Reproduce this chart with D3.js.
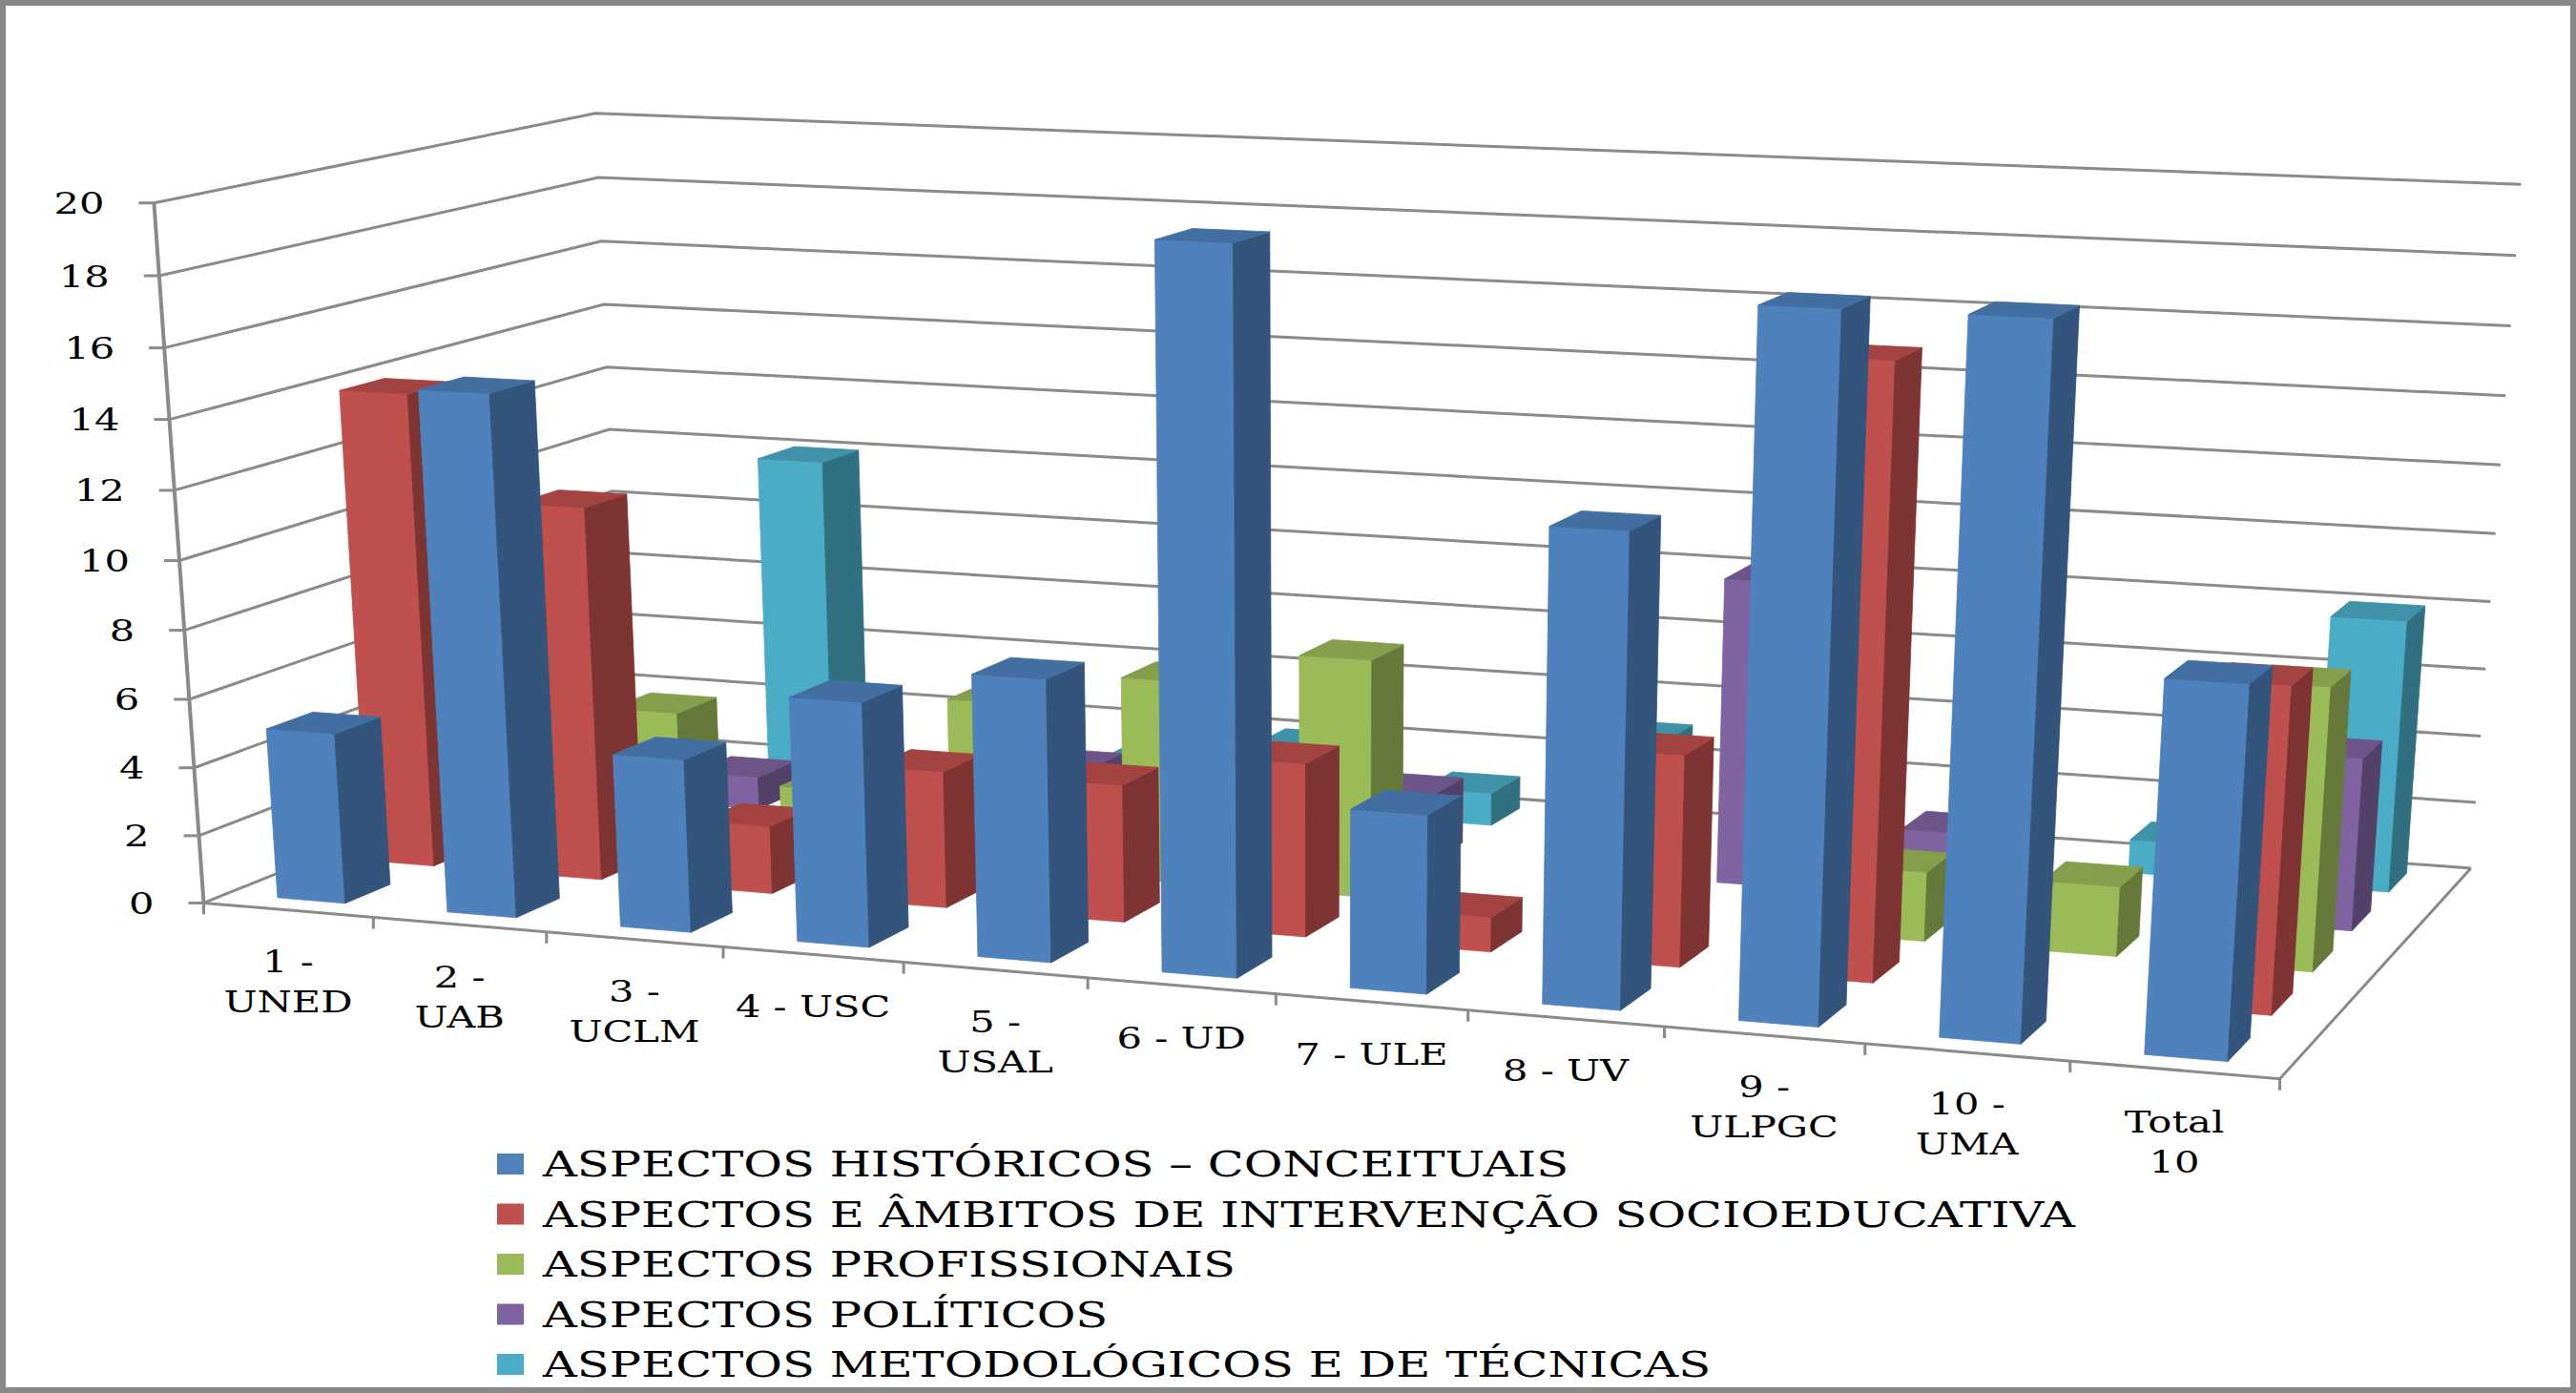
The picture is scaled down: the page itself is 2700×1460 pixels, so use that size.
<!DOCTYPE html>
<html lang="pt">
<head>
<meta charset="UTF-8">
<script src="https://cdn.jsdelivr.net/npm/d3@7.8.5/dist/d3.min.js"></script>
<title>Aspectos por universidade</title>
<style>
  body { margin: 0; background: #fff; }
  text { font-family: "DejaVu Serif", "Liberation Serif", serif; fill: #000; }
</style>
</head>
<body>
<svg id="chart" width="2700" height="1460"></svg>
<script>
// ---- data ----
var categories = ["1 - UNED", "2 - UAB", "3 - UCLM", "4 - USC", "5 - USAL", "6 - UD",
                  "7 - ULE", "8 - UV", "9 - ULPGC", "10 - UMA", "Total 10"];
// how the category labels wrap under the axis
var categoryLines = [["1 -", "UNED"], ["2 -", "UAB"], ["3 -", "UCLM"], ["4 - USC"], ["5 -", "USAL"],
                     ["6 - UD"], ["7 - ULE"], ["8 - UV"], ["9 -", "ULPGC"], ["10 -", "UMA"], ["Total", "10"]];
var seriesNames = ["ASPECTOS HISTÓRICOS – CONCEITUAIS",
                   "ASPECTOS E ÂMBITOS DE INTERVENÇÃO SOCIOEDUCATIVA",
                   "ASPECTOS PROFISSIONAIS",
                   "ASPECTOS POLÍTICOS",
                   "ASPECTOS METODOLÓGICOS E DE TÉCNICAS"];
var seriesColors = ["#4F81BD", "#C0504D", "#9BBB59", "#8064A2", "#4BACC6"];

var historicos    = [5, 15, 5, 7, 8, 20, 5, 13, 19, 19, 10];
var ambitos       = [14, 11, 2, 4, 4, 5, 1, 6, 17, 0, 9];
var profissionais = [0, 4, 2, 5, 6, 7, 0, 0, 2, 2, 8];
var politicos     = [0, 1, 0, 2, 0, 2, 0, 9, 2, 0, 5];
var metodologicos = [0, 10, 0, 1, 2, 1, 3, 0, 0, 1, 8];
var series = [historicos, ambitos, profissionais, politicos, metodologicos];

var yTicks = d3.range(0, 21, 2);

// ---- scales (world units: x = categories, h = value, z = depth) ----
var xScale = d3.scaleBand().domain(categories).range([0, categories.length])
    .paddingInner(0.6).paddingOuter(0.3);
var zScale = d3.scaleBand().domain(seriesNames).range([0, 1])
    .paddingInner(0.5).paddingOuter(0.25);
var yScale = d3.scaleLinear().domain([0, 20]).range([0, 1]);

// ---- perspective camera fitted to the frame corners of the plot box ----
// [x, h, z, screenX, screenY]
var frame = [
    [0, 0, 0, 213, 943], [0, 1, 0, 159, 215],
    [0, 1, 1, 626, 118], [0, 0.6, 1, 637, 383], [0, 0, 1, 650, 777],
    [11, 1, 1, 2642, 193], [11, 0, 1, 2590, 904], [11, 0, 0, 2389, 1134]
];
var frontTicks = [392, 572, 759, 950, 1142, 1337, 1537, 1744, 1955, 2170];
frontTicks.forEach(function(px, i) {
    frame.push([i + 1, 0, 0, px, 943 + (px - 213) * (1134 - 943) / (2389 - 213)]);
});

function fitCamera(pts) {
    var n = 11, M = d3.range(n).map(function() { return d3.range(n + 1).map(function() { return 0; }); });
    function add(row, b) {
        for (var i = 0; i < n; i++) {
            for (var j = 0; j < n; j++) M[i][j] += row[i] * row[j];
            M[i][n] += row[i] * b;
        }
    }
    pts.forEach(function(p) {
        var X = p[0], H = p[1], Z = p[2], u = p[3] / 1000, v = p[4] / 1000;
        add([X, H, Z, 1, 0, 0, 0, 0, -u * X, -u * H, -u * Z], u);
        add([0, 0, 0, 0, X, H, Z, 1, -v * X, -v * H, -v * Z], v);
    });
    for (var i = 0; i < n; i++) {
        var piv = i;
        for (var r = i + 1; r < n; r++) if (Math.abs(M[r][i]) > Math.abs(M[piv][i])) piv = r;
        var tmp = M[i]; M[i] = M[piv]; M[piv] = tmp;
        for (r = 0; r < n; r++) {
            if (r === i) continue;
            var f = M[r][i] / M[i][i];
            for (var c = i; c <= n; c++) M[r][c] -= f * M[i][c];
        }
    }
    return M.map(function(row, i) { return row[n] / row[i]; });
}
var P = fitCamera(frame);

function project(x, h, z) {
    var w = P[8] * x + P[9] * h + P[10] * z + 1;
    return [1000 * (P[0] * x + P[1] * h + P[2] * z + P[3]) / w,
            1000 * (P[4] * x + P[5] * h + P[6] * z + P[7]) / w];
}
var line = d3.line();
function poly(pts) { return line(pts.map(function(p) { return project(p[0], p[1], p[2]); })) + "Z"; }

// ---- drawing ----
var svg = d3.select("#chart");
var gridColor = "#8a8a8a";
var nCat = categories.length;

svg.append("rect").attr("x", 3).attr("y", 3).attr("width", 2694).attr("height", 1454)
    .attr("fill", "#fff").attr("stroke", "#878787").attr("stroke-width", 6);

// walls: gridlines on left wall and back wall
var grid = svg.append("g").attr("fill", "none").attr("stroke", gridColor).attr("stroke-width", 3);
yTicks.forEach(function(t) {
    var h = yScale(t);
    grid.append("path").attr("d", line([project(0, h, 0), project(0, h, 1), project(nCat, h, 1)]));
});
// floor edges
grid.append("path").attr("d", line([project(0, 0, 0), project(nCat, 0, 0), project(nCat, 0, 1)]));
// value axis
grid.append("path").attr("d", line([project(0, 0, 0), project(0, 1, 0)])).attr("stroke-width", 4);
yTicks.forEach(function(t) {
    var p = project(0, yScale(t), 0);
    grid.append("path").attr("d", line([[p[0] - 16, p[1]], p]));
});
d3.range(nCat + 1).forEach(function(i) {
    var p = project(i, 0, 0);
    grid.append("path").attr("d", line([p, [p[0], p[1] + 12]]));
});

// bars, back rows first, left to right
var bars = svg.append("g").attr("stroke-width", 0.8).attr("stroke-linejoin", "round");
var bw = xScale.bandwidth(), bd = zScale.bandwidth();
for (var s = seriesNames.length - 1; s >= 0; s--) {
    var base = d3.color(seriesColors[s]);
    var sideCol = base.darker(1.2).formatHex(), topCol = base.darker(0.45).formatHex();
    series[s].forEach(function(v, i) {
        if (!v) return;
        var x0 = xScale(categories[i]), x1 = x0 + bw;
        var z0 = zScale(seriesNames[s]), z1 = z0 + bd;
        var h = yScale(v);
        var g = bars.append("g");
        g.append("path").attr("d", poly([[x0, 0, z0], [x1, 0, z0], [x1, h, z0], [x0, h, z0]]))
            .attr("fill", base.formatHex()).attr("stroke", base.formatHex());
        g.append("path").attr("d", poly([[x1, 0, z0], [x1, 0, z1], [x1, h, z1], [x1, h, z0]]))
            .attr("fill", sideCol).attr("stroke", sideCol);
        g.append("path").attr("d", poly([[x0, h, z0], [x1, h, z0], [x1, h, z1], [x0, h, z1]]))
            .attr("fill", topCol).attr("stroke", topCol);
    });
}

// text is drawn a little wide, like the source picture
var stretch = 1.3;

// value tick labels
var yLab = svg.append("g").attr("font-size", 32);
yTicks.forEach(function(t) {
    var p = project(0, yScale(t), 0);
    yLab.append("text").attr("transform", "translate(" + (p[0] - 52) + "," + p[1] + ") scale(" + stretch + ",1)")
        .attr("text-anchor", "end").attr("dy", "0.36em").text(t);
});

// category labels
var xLab = svg.append("g").attr("font-size", 32);
categories.forEach(function(c, i) {
    var p = project(xScale(c) + bw / 2, 0, 0);
    categoryLines[i].forEach(function(txt, k) {
        xLab.append("text")
            .attr("transform", "translate(" + p[0] + "," + (p[1] + 54 + k * 42) + ") scale(" + stretch + ",1)")
            .attr("text-anchor", "middle").attr("dy", "0.36em").text(txt);
    });
});

// legend
var legend = svg.append("g").attr("font-size", 37);
seriesNames.forEach(function(name, i) {
    var y = 1220 + i * 52.5;
    legend.append("rect").attr("x", 521).attr("y", y - 11).attr("width", 28).attr("height", 22)
        .attr("fill", seriesColors[i]);
    legend.append("text").attr("transform", "translate(569," + y + ") scale(1.34,1)")
        .attr("dy", "0.36em").text(name);
});
</script>
</body>
</html>
